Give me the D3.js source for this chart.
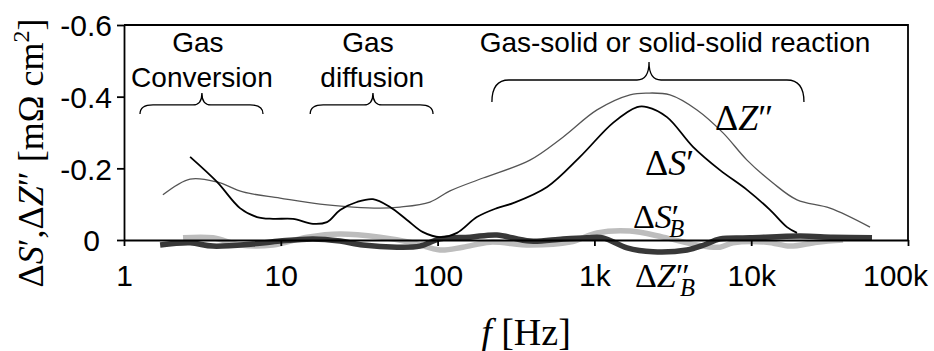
<!DOCTYPE html>
<html>
<head>
<meta charset="utf-8">
<script src="https://cdn.jsdelivr.net/npm/d3@7"></script>
<style>
  html, body { margin: 0; padding: 0; background: #fff; }
  svg { display: block; }
</style>
</head>
<body>
<svg id="chart" width="934" height="351"></svg>
<script>
// Frequency ticks (Hz) and their labels
const xTicks = [1, 10, 100, 1e3, 1e4, 1e5];
const xTickLabels = ["1", "10", "100", "1k", "10k", "100k"];
const yTicks = [-0.6, -0.4, -0.2, 0];
const yTickLabels = ["-0.6", "-0.4", "-0.2", "0"];

// ΔZ'' (thin grey)
const dZf = [1.77, 2.64, 3.92, 5.74, 9.88, 17.8, 28.9, 42.9, 57.6, 89.4, 120, 195, 388, 630, 1039, 1687, 2165, 3034, 4511, 6612, 9403, 13770, 19600, 31810, 57240];
const dZv = [-0.126, -0.170, -0.162, -0.134, -0.117, -0.100, -0.092, -0.089, -0.092, -0.106, -0.137, -0.173, -0.223, -0.287, -0.363, -0.405, -0.410, -0.405, -0.363, -0.299, -0.223, -0.159, -0.112, -0.089, -0.036];

// ΔS' (black)
const dSf = [2.64, 3.92, 5.49, 7.05, 8.92, 11.96, 16.05, 19.7, 23.9, 30.6, 38.7, 49.7, 63.8, 80.7, 103.6, 133, 178, 239, 303, 499, 809, 1314, 1870, 2165, 2904, 4255, 6324, 9403, 13180, 16920, 19600];
const dSv = [-0.232, -0.162, -0.089, -0.064, -0.059, -0.059, -0.045, -0.050, -0.084, -0.106, -0.114, -0.092, -0.056, -0.022, -0.008, -0.020, -0.064, -0.089, -0.103, -0.148, -0.232, -0.327, -0.371, -0.371, -0.343, -0.260, -0.195, -0.140, -0.084, -0.036, -0.020];

// ΔS'_B (thick light grey)
const dSBf = [2.38, 3.69, 5.49, 8.92, 14.7, 23.9, 42.9, 69.7, 103.6, 145, 216, 388, 699, 1039, 1687, 2738, 4511, 6324, 7656, 12610, 17680, 26280, 38500];
const dSBv = [-0.006, -0.006, 0.014, 0.014, -0.008, -0.017, -0.008, 0.008, 0.028, 0.020, 0.006, 0.014, 0.006, -0.020, -0.025, -0.008, 0.014, 0.020, 0.008, 0.006, 0.017, 0.006, 0.000];

// ΔZ''_B (thick dark grey)
const dZBf = [1.70, 2.64, 3.69, 6.65, 9.88, 16.05, 23.9, 33.4, 55.1, 77.2, 103.6, 161, 239, 388, 630, 897, 1134, 1614, 2364, 3896, 5000, 6324, 9823, 20480, 33240, 58940];
const dZBv = [0.014, 0.008, 0.017, 0.011, 0.003, -0.003, 0.003, 0.014, 0.020, 0.017, -0.003, -0.008, -0.014, 0.003, -0.003, -0.006, -0.006, 0.022, 0.033, 0.028, 0.014, -0.003, -0.006, -0.011, -0.008, -0.006];

// Process regions marked with braces: [from, centre, to] in Hz, brace height on the value axis
const braceFrom = [1.265, 15.4, 222];
const braceMid = [3.14, 38.7, 2230];
const braceTo = [7.70, 93.5, 21700];
const braceLevel = [-0.377, -0.377, -0.4465];
const regionLines = [["Gas", "Conversion"], ["Gas", "diffusion"], ["Gas-solid or solid-solid reaction"]];

const svg = d3.select("#chart");
const x = d3.scaleLog().domain([1, 1e5]).range([124, 908]);
const y = d3.scaleLinear().domain([0, -0.6]).range([240, 25]);

const sans = "'Liberation Sans', Arial, Helvetica, sans-serif";
const serif = "'Liberation Serif', 'Times New Roman', Times, serif";

const line = d3.line()
  .x(d => x(d[0]))
  .y(d => y(d[1]))
  .curve(d3.curveCatmullRom.alpha(0.5));

const zip = (a, b) => a.map((v, i) => [v, b[i]]);

// Curves: thick background curves first, then the thin ones
const plot = svg.append("g");
plot.append("path").datum(zip(dSBf, dSBv)).attr("d", line)
  .attr("fill", "none").attr("stroke", "#bdbdbd").attr("stroke-width", 5.5)
  .attr("stroke-linecap", "butt");
plot.append("path").datum(zip(dZBf, dZBv)).attr("d", line)
  .attr("fill", "none").attr("stroke", "#383838").attr("stroke-width", 5.5)
  .attr("stroke-linecap", "butt");
plot.append("path").datum(zip(dZf, dZv)).attr("d", line)
  .attr("fill", "none").attr("stroke", "#555").attr("stroke-width", 1.3);
plot.append("path").datum(zip(dSf, dSv)).attr("d", line)
  .attr("fill", "none").attr("stroke", "#000").attr("stroke-width", 1.8);

// Axes
const xAxis = svg.append("g")
  .attr("transform", `translate(0,${y(0)})`)
  .call(d3.axisBottom(x).tickValues(xTicks)
    .tickFormat((d, i) => xTickLabels[i]).tickSize(6).tickSizeOuter(0));
const yAxis = svg.append("g")
  .attr("transform", `translate(${x(1)},0)`)
  .call(d3.axisLeft(y).tickValues(yTicks)
    .tickFormat((d, i) => yTickLabels[i]).tickSize(7).tickSizeOuter(0).tickPadding(5));

[xAxis, yAxis].forEach(g => {
  g.selectAll("path.domain").attr("stroke", "#000").attr("stroke-width", 1.8);
  g.selectAll(".tick line").attr("stroke", "#000").attr("stroke-width", 1.8);
  g.selectAll(".tick text").attr("font-family", sans).attr("font-size", 30).attr("fill", "#000");
});
xAxis.selectAll(".tick text").attr("dy", "0.71em").attr("y", 25);
// the last label is pulled inside the right edge
xAxis.selectAll(".tick").filter(d => d === 1e5).select("text").attr("dx", -13);
yAxis.selectAll(".tick text").attr("dy", "0.36em");
yAxis.selectAll(".tick").filter(d => d === 0).select("text").attr("dx", -12);

// Frame: top and right edges
svg.append("path")
  .attr("d", `M${x(1)},${y(-0.6)}H${x(1e5)}V${y(0)}`)
  .attr("fill", "none").attr("stroke", "#000").attr("stroke-width", 1.8);

// Braces over the process regions
const braceStyle = [
  { endH: 9, tipH: 12, w0: 13, w1: 9 },
  { endH: 9, tipH: 12, w0: 13, w1: 9 },
  { endH: 22, tipH: 18, w0: 17, w1: 12 }
];
braceFrom.forEach((f0, i) => {
  const x0 = x(f0), xc = x(braceMid[i]), x1 = x(braceTo[i]), yb = y(braceLevel[i]);
  const s = braceStyle[i];
  const d = `M${x0},${yb + s.endH}Q${x0},${yb} ${x0 + s.w0},${yb}` +
    `L${xc - s.w1},${yb}Q${xc},${yb} ${xc},${yb - s.tipH}` +
    `Q${xc},${yb} ${xc + s.w1},${yb}L${x1 - s.w0},${yb}` +
    `Q${x1},${yb} ${x1},${yb + s.endH}`;
  svg.append("path").attr("d", d).attr("fill", "none")
    .attr("stroke", "#000").attr("stroke-width", 1.3);
});

// Region captions
const captionAt = [[2.96, 3.14], [36.0, 38.3], [3266]];
const captionLevel = [-0.525, -0.427];
regionLines.forEach((lines, i) => {
  lines.forEach((t, j) => {
    svg.append("text")
      .attr("x", x(captionAt[i][j])).attr("y", y(captionLevel[j]))
      .attr("text-anchor", "middle")
      .attr("font-family", sans).attr("font-size", 28).attr("fill", "#000")
      .text(t);
  });
});

// Curve labels
const labelF = [5875, 2102, 1762, 1815];
const labelV = [-0.307, -0.181, -0.0335, 0.131];
const labelParts = [
  [["Δ", "n"], ["Z", "i"], ["″", "n"]],
  [["Δ", "n"], ["S", "i"], ["′", "n"]],
  [["Δ", "n"], ["S", "i"], ["′", "n"], ["B", "sub"]],
  [["Δ", "n"], ["Z", "i"], ["″", "n"], ["B", "sub"]]
];
const labelSize = [36, 36, 34, 34];
labelParts.forEach((parts, i) => {
  const t = svg.append("text")
    .attr("x", x(labelF[i])).attr("y", y(labelV[i]))
    .attr("font-family", serif).attr("font-size", labelSize[i]).attr("fill", "#000");
  parts.forEach(([s, kind], k) => {
    const sp = t.append("tspan").text(s);
    if (kind === "i" || kind === "sub") sp.attr("font-style", "italic");
    if (kind === "sub") {
      sp.attr("font-size", labelSize[i] * 0.72).attr("dy", 9).attr("dx", -10);
    }
  });
});

// Axis titles
const yTitle = svg.append("text")
  .attr("transform", `translate(43,${153}) rotate(-90)`)
  .attr("text-anchor", "middle")
  .attr("font-family", serif).attr("font-size", 36).attr("fill", "#000");
[["Δ", "n"], ["S", "i"], ["′,Δ", "n"], ["Z", "i"], ["″ [mΩ cm", "n"], ["2", "sup"], ["]", "n"]]
  .forEach(([s, kind]) => {
    const sp = yTitle.append("tspan").text(s);
    if (kind === "i") sp.attr("font-style", "italic");
    if (kind === "sup") sp.attr("font-size", 24).attr("dy", -14);
    if (kind === "n" && s === "]") sp.attr("dy", 14);
  });

const xTitle = svg.append("text")
  .attr("x", 526).attr("y", 345)
  .attr("text-anchor", "middle")
  .attr("font-family", serif).attr("font-size", 38).attr("fill", "#000");
xTitle.append("tspan").attr("font-style", "italic").text("f");
xTitle.append("tspan").text(" [Hz]");
</script>
</body>
</html>
